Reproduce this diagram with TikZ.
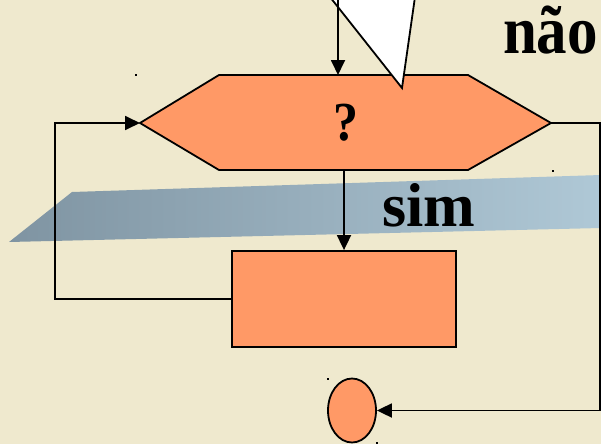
\documentclass[tikz,border=0pt]{standalone}
\usepackage{fontspec}
\setmainfont{Liberation Serif}
\usetikzlibrary{arrows.meta,shapes.geometric}
\definecolor{bgcol}{HTML}{EFE9CE}
\definecolor{boxcol}{HTML}{FF9966}
\definecolor{bandL}{HTML}{7F94A2}
\definecolor{bandR}{HTML}{AFC8D6}
\tikzset{
  outl/.style={draw=black,line width=1.8pt},
  conn/.style={draw=black,line width=1.8pt,-{Triangle[length=15pt,width=14pt]}},
  lbl/.style={inner sep=0pt,anchor=base},
  speck/.style={fill=black,minimum size=2pt,inner sep=0pt,draw=none}
}
\begin{document}
\begin{tikzpicture}[x=1pt,y=-1pt]
\useasboundingbox (0,0) rectangle (601,444);
\fill[bgcol] (0,0) rectangle (601,444);
% band
\shade[left color=bandL,right color=bandR] (9,242) -- (72,192) -- (601,175) -- (601,228) -- cycle;
% hexagon
\coordinate (hL) at (140,123);
\coordinate (hTL) at (219,75);
\coordinate (hTR) at (468,75);
\coordinate (hR) at (551,123);
\coordinate (hBR) at (468,170);
\coordinate (hBL) at (219,170);
\path[fill=boxcol,outl] (hL) -- (hTL) -- (hTR) -- (hR) -- (hBR) -- (hBL) -- cycle;
\coordinate (hTop) at (338,75);
\coordinate (hBot) at (344,170);
\node[lbl,font=\bfseries\fontsize{50}{50}\selectfont,yscale=1.1] (q) at (346,140) {?};
% box and circle
\node[outl,fill=boxcol,rectangle,minimum width=224pt,minimum height=96pt,inner sep=0pt] (box) at (344,299) {};
\node[outl,fill=boxcol,ellipse,minimum width=48pt,minimum height=64pt,inner sep=0pt] (end) at (352,410.5) {};
% callout triangle
\path[fill=white,outl] (330,-3) -- (402,88) -- (415,-3);
% connectors
\coordinate (src) at (338,-2);
\draw[conn] (src) -- (hTop);
\draw[conn] (hBot) -- (box.north);
\coordinate (lcorner) at (55,299);
\draw[conn] (box.west) -- (lcorner) |- (hL);
\coordinate (rcorner) at (600,123);
\draw[conn] (hR) -- (rcorner) |- (end.east);
% labels
\node[lbl,font=\bfseries\fontsize{61}{61}\selectfont,yscale=1.12] (nao) at (550.5,53) {não};
\node[lbl,font=\bfseries\fontsize{62}{62}\selectfont] (sim) at (429,226) {sim};
% specks
\node[speck] (s1) at (136,75) {};
\node[speck] (s2) at (553,171) {};
\node[speck] (s3) at (328,379) {};
\node[speck] (s4) at (377,443) {};
\end{tikzpicture}
\end{document}
